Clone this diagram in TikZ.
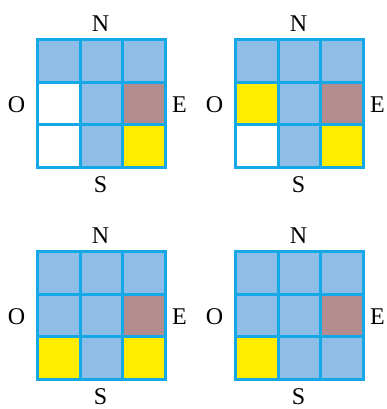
\documentclass[tikz,border=0pt]{standalone}
\usepackage{fontspec}
\setmainfont{Liberation Serif}
\definecolor{cellblue}{RGB}{142,190,232}
\definecolor{gridcyan}{RGB}{20,168,230}
\definecolor{cellbrown}{RGB}{178,140,142}
\definecolor{cellyellow}{RGB}{255,236,0}
\tikzset{
  gridline/.style={draw=gridcyan, line width=3pt, line cap=rect},
  compass/.style={font=\fontsize{24}{24}\selectfont, inner sep=0pt, anchor=base},
}
% One 3x3 panel: #1 = name, #2,#3 = top-left corner, #4 = nine cell colours row by row
\newcommand{\drawpanel}[4]{%
  \foreach \c [count=\i from 0] in {#4} {
    \pgfmathtruncatemacro\colidx{mod(\i,3)}
    \pgfmathtruncatemacro\rowidx{div(\i,3)}
    \fill[\c] ({#2+\colidx*128/3},{#3+\rowidx*128/3}) rectangle ++(128/3,128/3);
  }
  \foreach \k in {0,1,2,3} {
    \draw[gridline] ({#2+\k*128/3},#3) -- ({#2+\k*128/3},#3+128);
    \draw[gridline] (#2,{#3+\k*128/3}) -- (#2+128,{#3+\k*128/3});
  }
  \node[compass] (#1N) at (#2+63,#3-8) {N};
  \node[compass] (#1S) at (#2+63,#3+152.5) {S};
  \node[compass] (#1O) at (#2-21,#3+73) {O};
  \node[compass] (#1E) at (#2+142,#3+73) {E};
}
\begin{document}
\begin{tikzpicture}[x=1pt,y=-1pt]
  \useasboundingbox (0,0) rectangle (387,409);
  \drawpanel{a}{37.5}{39.5}{cellblue,cellblue,cellblue,white,cellblue,cellbrown,white,cellblue,cellyellow}
  \drawpanel{b}{235.5}{39.5}{cellblue,cellblue,cellblue,cellyellow,cellblue,cellbrown,white,cellblue,cellyellow}
  \drawpanel{c}{37.5}{251.5}{cellblue,cellblue,cellblue,cellblue,cellblue,cellbrown,cellyellow,cellblue,cellyellow}
  \drawpanel{d}{235.5}{251.5}{cellblue,cellblue,cellblue,cellblue,cellblue,cellbrown,cellyellow,cellblue,cellblue}
\end{tikzpicture}
\end{document}
